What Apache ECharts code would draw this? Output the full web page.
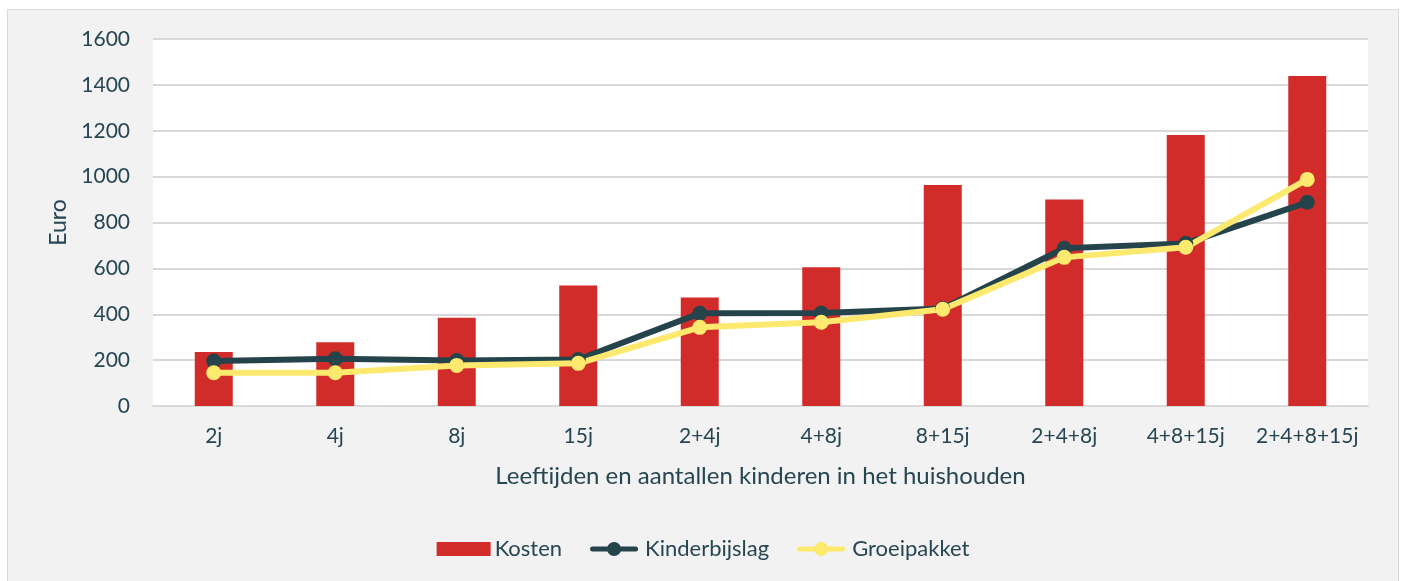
<!DOCTYPE html>
<html><head><meta charset="utf-8">
<script src="https://cdn.jsdelivr.net/npm/echarts@6/dist/echarts.min.js"></script>
<style>
html,body{margin:0;padding:0;background:#fff;}
#c{position:absolute;left:7px;top:9px;width:1390px;height:575px;border:1px solid #d9d9d9;background:#f2f2f2;}
</style></head><body>
<div id="c"></div>
<script>
const categories = ['2j','4j','8j','15j','2+4j','4+8j','8+15j','2+4+8j','4+8+15j','2+4+8+15j'];
const kosten = [235, 278, 385, 525, 473, 605, 963, 900, 1181, 1439];
const kinderbijslag = [196, 206, 198, 203, 404, 405, 425, 688, 709, 888];
const groeipakket = [145, 145, 177, 186, 343, 365, 422, 648, 692, 988];
const yTicks = [0, 200, 400, 600, 800, 1000, 1200, 1400, 1600];

const txt = '#264653';
const font = 'Lato, "Noto Sans", sans-serif';
const lineIcon = 'path://M2.5,4.5 L18,4.5 L18,9.5 L2.5,9.5 A2.5,2.5 0 0,1 2.5,4.5 Z M30,4.5 L45.5,4.5 A2.5,2.5 0 0,1 45.5,9.5 L30,9.5 Z M17,7 A7,7 0 1,1 31,7 A7,7 0 1,1 17,7 Z';
const chart = echarts.init(document.getElementById('c'), null, {renderer:'canvas'});
chart.setOption({
  animation:false,
  backgroundColor:'#f2f2f2',
  textStyle:{fontFamily:font},
  grid:{left:145,right:30,top:29,bottom:179,show:true,backgroundColor:'#ffffff',borderWidth:0,containLabel:false},
  legend:{
    top:523,left:'center',itemWidth:54,itemHeight:14,itemGap:28,
    textStyle:{color:txt,fontSize:22,fontFamily:font,padding:[0,0,0,-1]},
    data:[
      {name:'Kosten',icon:'rect'},
      {name:'Kinderbijslag',icon:lineIcon},
      {name:'Groeipakket',icon:lineIcon}
    ]
  },
  xAxis:{
    type:'category',data:categories,
    axisLine:{show:true,lineStyle:{color:'#d9d9d9',width:2}},
    axisTick:{show:false},
    axisLabel:{color:txt,fontSize:21,margin:20,fontFamily:font,interval:0,hideOverlap:false},
    name:'Leeftijden en aantallen kinderen in het huishouden',
    nameLocation:'middle',nameGap:58,
    nameTextStyle:{color:txt,fontSize:24,fontFamily:font}
  },
  yAxis:{
    type:'value',min:0,max:1600,interval:200,
    axisLine:{show:false},axisTick:{show:false},
    splitLine:{lineStyle:{color:'#d9d9d9',width:2}},
    axisLabel:{color:txt,fontSize:21,margin:23,fontFamily:font,
      formatter:v=> yTicks.includes(v)?String(v):''},
    name:'Euro',nameLocation:'middle',nameGap:82,nameRotate:90,
    nameTextStyle:{color:txt,fontSize:23,fontFamily:font}
  },
  series:[
    {name:'Kosten',type:'bar',data:kosten,barWidth:38,itemStyle:{color:'#d12c2a'}},
    {name:'Kinderbijslag',type:'line',data:kinderbijslag,symbol:'circle',symbolSize:15,
      lineStyle:{color:'#25434a',width:6},itemStyle:{color:'#25434a'}},
    {name:'Groeipakket',type:'line',data:groeipakket,symbol:'circle',symbolSize:15,
      lineStyle:{color:'#fde96e',width:6},itemStyle:{color:'#fde96e'}}
  ]
});
</script>
</body></html>
